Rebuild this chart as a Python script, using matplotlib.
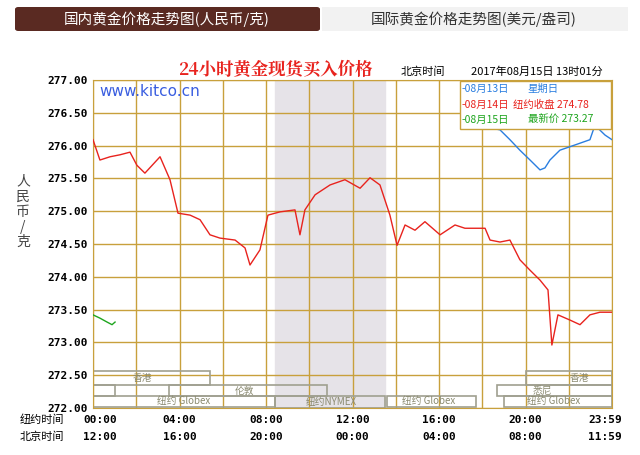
import matplotlib
matplotlib.use("Agg")
import matplotlib.pyplot as plt
from matplotlib.patches import Rectangle, FancyBboxPatch

plt.rcParams['font.family'] = ['Noto Sans CJK SC', 'DejaVu Sans']

red_h = [0,0.32,0.79,1.25,1.71,2.03,2.40,3.10,3.56,3.93,4.49,4.95,5.41,5.87,6.57,7.03,7.26,7.72,8.09,8.65,9.34,9.57,9.80,10.27,10.96,11.65,12.35,12.81,13.27,13.73,14.06,14.43,14.89,15.35,16.05,16.74,17.20,18.13,18.36,18.82,19.28,19.51,19.74,20.21,20.67,21.04,21.22,21.50,22.06,22.52,22.98,23.44,24]
red_p = [276.09,275.78,275.83,275.86,275.90,275.70,275.58,275.83,275.48,274.97,274.94,274.87,274.64,274.59,274.56,274.44,274.18,274.41,274.94,274.99,275.02,274.64,275.02,275.25,275.40,275.48,275.35,275.51,275.40,274.94,274.48,274.79,274.71,274.84,274.64,274.79,274.74,274.74,274.56,274.53,274.56,274.41,274.26,274.10,273.95,273.80,272.96,273.42,273.34,273.27,273.42,273.46,273.46]
blue_h = [17.90,18.36,18.82,19.28,19.74,20.21,20.67,20.90,21.13,21.59,22.29,22.98,23.21,23.68,24]
blue_p = [276.31,276.27,276.24,276.09,275.93,275.78,275.63,275.66,275.78,275.93,276.01,276.09,276.31,276.16,276.09]
green_h = [0,0.32,0.65,0.88,1.02]
green_p = [273.42,273.37,273.31,273.27,273.31]
yticks = [272.0,272.5,273.0,273.5,274.0,274.5,275.0,275.5,276.0,276.5,277.0]
ny_labels = ['00:00','04:00','08:00','12:00','16:00','20:00','23:59']
bj_labels = ['12:00','16:00','20:00','00:00','04:00','08:00','11:59']
label_pos = [0,4,8,12,16,20,24]

fig = plt.figure(figsize=(6.4,4.55), dpi=100)
fig.patches.append(FancyBboxPatch((15/640, 1-31/455), 305/640, 24/455, boxstyle="round,pad=0,rounding_size=0.005",
                                  transform=fig.transFigure, fc='#5a2a22', ec='none'))
fig.patches.append(Rectangle((322/640, 1-31/455), 306/640, 24/455, transform=fig.transFigure, fc='#f2f2f2', ec='none'))
fig.text(167/640, 1-19/455, '国内黄金价格走势图(人民币/克)', color='white', fontsize=10.5, ha='center', va='center')
fig.text(474/640, 1-19/455, '国际黄金价格走势图(美元/盎司)', color='#333333', fontsize=10.5, ha='center', va='center')

ax = fig.add_axes([93/640, 1-408/455, 519/640, 328/455])
gc = '#c8a03c'
ax.set_xlim(0,24); ax.set_ylim(272,277)
ax.axvspan(8.4, 13.5, color='#e6e3e8', zorder=0)
for x in range(0,25,2):
    ax.axvline(x, color=gc, lw=1, zorder=1)
for y in yticks:
    ax.axhline(y, color=gc, lw=1, zorder=1)
for s in ax.spines.values():
    s.set_color(gc)
ax.set_xticks([]); ax.set_yticks(yticks)
ax.set_yticklabels([f'{v:.2f}' for v in yticks], fontsize=8, family='DejaVu Sans Mono', fontweight='bold')
ax.tick_params(axis='y', length=0, pad=4)

ax.plot(red_h, red_p, color='#e8231e', lw=1, zorder=3)
ax.plot(blue_h, blue_p, color='#2a7ee0', lw=1, zorder=3)
ax.plot(green_h, green_p, color='#1ea51e', lw=1, zorder=3)

sc = '#a0a090'
def sess(x0, x1, y0, y1, name, lx):
    ax.add_patch(Rectangle((x0, y0), x1-x0, y1-y0, fill=False, ec=sc, lw=1.2, zorder=2))
    ax.text(lx, (y0+y1)/2, name, fontsize=7, color='#8a8a70', ha='center', va='center', zorder=2)
sess(0, 5.4, 272.35, 272.57, '香港', 2.3)
sess(20.0, 24, 272.35, 272.57, '香港', 22.5)
sess(3.5, 10.8, 272.18, 272.35, '伦敦', 7.0)
sess(0, 1, 272.18, 272.35, '', 0.5)
sess(18.7, 24, 272.18, 272.35, '悉尼', 20.8)
sess(0, 8.4, 272.02, 272.18, '纽约 Globex', 4.2)
sess(8.4, 13.5, 272.0, 272.18, '纽约NYMEX', 11)
sess(13.6, 17.7, 272.02, 272.18, '纽约 Globex', 15.5)
sess(19.0, 24, 272.02, 272.18, '纽约 Globex', 21.3)

ax.text(0.3, 276.75, 'www.kitco.cn', color='#3a5ee0', fontsize=11, family='DejaVu Sans', zorder=4)
ax.add_patch(Rectangle((16.95, 276.25), 7.0, 0.74, fc='white', ec=gc, lw=1, zorder=4))
ax.text(17.05, 276.86, '-08月13日', color='#2a7ee0', fontsize=7.5, va='center', zorder=5)
ax.text(20.1, 276.86, '星期日', color='#2a7ee0', fontsize=7.5, va='center', zorder=5)
ax.text(17.05, 276.62, '-08月14日', color='#e8231e', fontsize=7.5, va='center', zorder=5)
ax.text(19.4, 276.62, '纽约收盘 274.78', color='#e8231e', fontsize=7.5, va='center', zorder=5)
ax.text(17.05, 276.39, '-08月15日', color='#1ea51e', fontsize=7.5, va='center', zorder=5)
ax.text(20.1, 276.39, '最新价 273.27', color='#1ea51e', fontsize=7.5, va='center', zorder=5)

fig.text(275/640, 1-70/455, '24小时黄金现货买入价格', color='#e8231e', fontsize=12.5, fontweight='bold', ha='center', va='center', family=['Noto Serif CJK SC','Noto Sans CJK SC'])
fig.text(423/640, 1-72/455, '北京时间', fontsize=8, ha='center', va='center')
fig.text(537/640, 1-72/455, '2017年08月15日 13时01分', fontsize=8, ha='center', va='center')
fig.text(23/640, 1-212/455, '人\n民\n币\n/\n克', fontsize=10, ha='center', va='center', color='#444444', linespacing=1.1)

fig.text(20/640, 1-420/455, '纽约时间', fontsize=8, va='center')
fig.text(20/640, 1-437/455, '北京时间', fontsize=8, va='center')
for h, a, b in zip(label_pos, ny_labels, bj_labels):
    xf = (93 + h/24*519)/640
    ha = 'center'
    if h == 0: xf = 93/640 - 0.015; ha = 'left'
    if h == 24: xf = 622/640; ha = 'right'
    fig.text(xf, 1-420/455, a, fontsize=8, family='DejaVu Sans Mono', fontweight='bold', ha=ha, va='center')
    fig.text(xf, 1-437/455, b, fontsize=8, family='DejaVu Sans Mono', fontweight='bold', ha=ha, va='center')

fig.savefig('out.png', dpi=100, facecolor='white')
